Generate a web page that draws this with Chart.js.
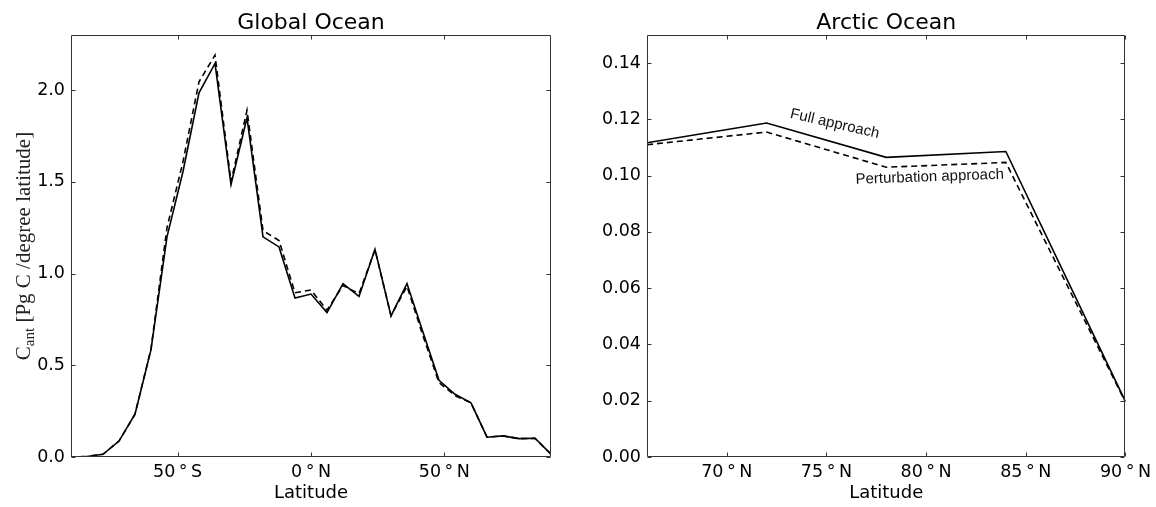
<!DOCTYPE html>
<html>
<head>
<meta charset="utf-8">
<script src="https://cdn.jsdelivr.net/npm/chart.js@4.4.1/dist/chart.umd.min.js"></script>
<style>
    html, body { margin: 0; padding: 0; background: #fff; }
    #wrap { position: relative; width: 1156px; height: 507px; }
    canvas { position: absolute; top: 0; }
</style>
</head>
<body>
<div id="wrap">
    <canvas id="globalChart" width="578" height="507" style="left:0"></canvas>
    <canvas id="arcticChart" width="578" height="507" style="left:578px"></canvas>
</div>
<script>
// global ocean, every 6 degrees
const globalLat = [-90, -84, -78, -72, -66, -60, -54, -48, -42, -36, -30, -24, -18, -12, -6, 0,
    6, 12, 18, 24, 30, 36, 42, 48, 54, 60, 66, 72, 78, 84, 90];
const globalFull = [0.0, 0.003, 0.015, 0.087, 0.233, 0.585, 1.2, 1.556, 1.985, 2.145, 1.485, 1.848, 1.2, 1.145, 0.866, 0.888,
    0.787, 0.945, 0.875, 1.132, 0.769, 0.945, 0.68, 0.418, 0.342, 0.295, 0.108, 0.115, 0.1, 0.102, 0.015];
const globalPert = [0.0, 0.003, 0.015, 0.087, 0.233, 0.59, 1.25, 1.61, 2.045, 2.19, 1.5, 1.89, 1.234, 1.18, 0.895, 0.91,
    0.8, 0.935, 0.89, 1.13, 0.77, 0.93, 0.66, 0.405, 0.335, 0.295, 0.108, 0.115, 0.1, 0.102, 0.015];

// arctic ocean
const arcticLat = [66, 72, 78, 84, 90];
const arcticFull = [0.1117, 0.1187, 0.1065, 0.1086, 0.0197];
const arcticPert = [0.1110, 0.1155, 0.1030, 0.1047, 0.0195];

const globalXTicks = [-50, 0, 50];
const globalXLabels = ["50\u2009°\u2009S", "0\u2009°\u2009N", "50\u2009°\u2009N"];
const globalYTicks = [0, 0.5, 1.0, 1.5, 2.0];
const arcticXTicks = [70, 75, 80, 85, 90];
const arcticXLabels = ["70\u2009°\u2009N", "75\u2009°\u2009N", "80\u2009°\u2009N", "85\u2009°\u2009N", "90\u2009°\u2009N"];
const arcticYTicks = [0, 0.02, 0.04, 0.06, 0.08, 0.10, 0.12, 0.14];

function points(xs, ys) {
    return xs.map((x, i) => ({ x: x, y: ys[i] }));
}

const tickFont = { family: "DejaVu Sans", size: 17.5 };

// frame with inward ticks on all sides, panel title, y label, notes
const framePlugin = {
    id: "frame",
    afterDatasetsDraw(chart, args, o) {
        const { ctx, chartArea: a } = chart;
        const xs = chart.scales.x, ys = chart.scales.y;
        const l = Math.round(a.left) + 0.5, r = Math.round(a.right) - 0.5;
        const t = Math.round(a.top) + 0.5, b = Math.round(a.bottom) - 0.5;
        ctx.save();
        ctx.strokeStyle = "#333";
        ctx.lineWidth = 1;
        ctx.beginPath();
        ctx.rect(l, t, r - l, b - t);
        xs.ticks.forEach(tk => {
            const p = Math.round(xs.getPixelForValue(tk.value)) + 0.5;
            ctx.moveTo(p, b); ctx.lineTo(p, b - 4);
            ctx.moveTo(p, t); ctx.lineTo(p, t + 4);
        });
        ys.ticks.forEach(tk => {
            const p = Math.round(ys.getPixelForValue(tk.value)) + 0.5;
            ctx.moveTo(l, p); ctx.lineTo(l + 4, p);
            ctx.moveTo(r, p); ctx.lineTo(r - 4, p);
        });
        ctx.stroke();

        ctx.fillStyle = "#000";
        ctx.font = '22px "DejaVu Sans"';
        ctx.textAlign = "center";
        ctx.textBaseline = "middle";
        ctx.fillText(o.title, (a.left + a.right) / 2, 23.5);

        (o.notes || []).forEach(n => {
            ctx.save();
            ctx.translate(xs.getPixelForValue(n.x), ys.getPixelForValue(n.y));
            ctx.rotate(n.angle * Math.PI / 180);
            ctx.font = '15px "Liberation Sans"';
            ctx.fillStyle = "#111";
            ctx.fillText(n.text, 0, 0);
            ctx.restore();
        });

        if (o.yLabel) {
            const big = '21px "Liberation Serif"', small = '15px "Liberation Serif"';
            const rest = " [Pg C /degree latitude]";
            ctx.font = big;
            const wC = ctx.measureText("C").width, wR = ctx.measureText(rest).width;
            ctx.font = small;
            const wS = ctx.measureText("ant").width;
            const total = wC + wS + wR;
            ctx.save();
            ctx.translate(30, (a.top + a.bottom) / 2);
            ctx.rotate(-Math.PI / 2);
            ctx.textAlign = "left";
            ctx.textBaseline = "alphabetic";
            ctx.fillStyle = "#222";
            let x0 = -total / 2;
            ctx.font = big;
            ctx.fillText("C", x0, 0);
            ctx.font = small;
            ctx.fillText("ant", x0 + wC, 4);
            ctx.font = big;
            ctx.fillText(rest, x0 + wC + wS, 0);
            ctx.restore();
        }
        ctx.restore();
    }
};

function makeChart(id, cfg) {
    return new Chart(document.getElementById(id), {
        type: "line",
        data: {
            datasets: [
                { label: "Full approach", data: points(cfg.lat, cfg.full), borderColor: "#000", borderWidth: 1.6 },
                { label: "Perturbation approach", data: points(cfg.lat, cfg.pert), borderColor: "#000", borderWidth: 1.6, borderDash: [6, 4] }
            ]
        },
        options: {
            responsive: false,
            animation: false,
            devicePixelRatio: 1,
            elements: { point: { radius: 0 }, line: { tension: 0 } },
            layout: { padding: { top: 35, right: cfg.padRight, left: 0, bottom: 0 } },
            plugins: {
                legend: { display: false },
                tooltip: { enabled: false },
                frame: { title: cfg.title, notes: cfg.notes, yLabel: cfg.yLabel }
            },
            scales: {
                x: {
                    type: "linear",
                    min: cfg.xMin,
                    max: cfg.xMax,
                    afterBuildTicks: s => { s.ticks = cfg.xTicks.map(v => ({ value: v })); },
                    afterFit: s => { s.height = 50; },
                    grid: { display: false, drawTicks: false },
                    border: { display: false },
                    ticks: {
                        font: tickFont, color: "#000", padding: 5, maxRotation: 0, autoSkip: false,
                        callback: (v, i) => cfg.xLabels[i]
                    },
                    title: {
                        display: true, text: "Latitude", color: "#000",
                        font: { family: "DejaVu Sans", size: 18 },
                        padding: { top: 0, bottom: 3 }
                    }
                },
                y: {
                    min: 0,
                    max: cfg.yMax,
                    afterBuildTicks: s => { s.ticks = cfg.yTicks.map(v => ({ value: v })); },
                    afterFit: s => { s.width = cfg.yWidth; },
                    grid: { display: false, drawTicks: false },
                    border: { display: false },
                    ticks: {
                        font: tickFont, color: "#000", padding: 6,
                        callback: v => v.toFixed(cfg.digits)
                    }
                }
            }
        },
        plugins: [framePlugin]
    });
}

makeChart("globalChart", {
    lat: globalLat, full: globalFull, pert: globalPert,
    xMin: -90, xMax: 90, xTicks: globalXTicks, xLabels: globalXLabels,
    yMax: 2.3, yTicks: globalYTicks, digits: 1,
    yWidth: 71, padRight: 27,
    title: "Global Ocean", yLabel: true, notes: []
});

makeChart("arcticChart", {
    lat: arcticLat, full: arcticFull, pert: arcticPert,
    xMin: 66, xMax: 90, xTicks: arcticXTicks, xLabels: arcticXLabels,
    yMax: 0.15, yTicks: arcticYTicks, digits: 2,
    yWidth: 69, padRight: 30,
    title: "Arctic Ocean", yLabel: false,
    notes: [
        { text: "Full approach", x: 75.42, y: 0.1184, angle: 13 },
        { text: "Perturbation approach", x: 80.18, y: 0.0995, angle: -2 }
    ]
});
</script>
</body>
</html>
